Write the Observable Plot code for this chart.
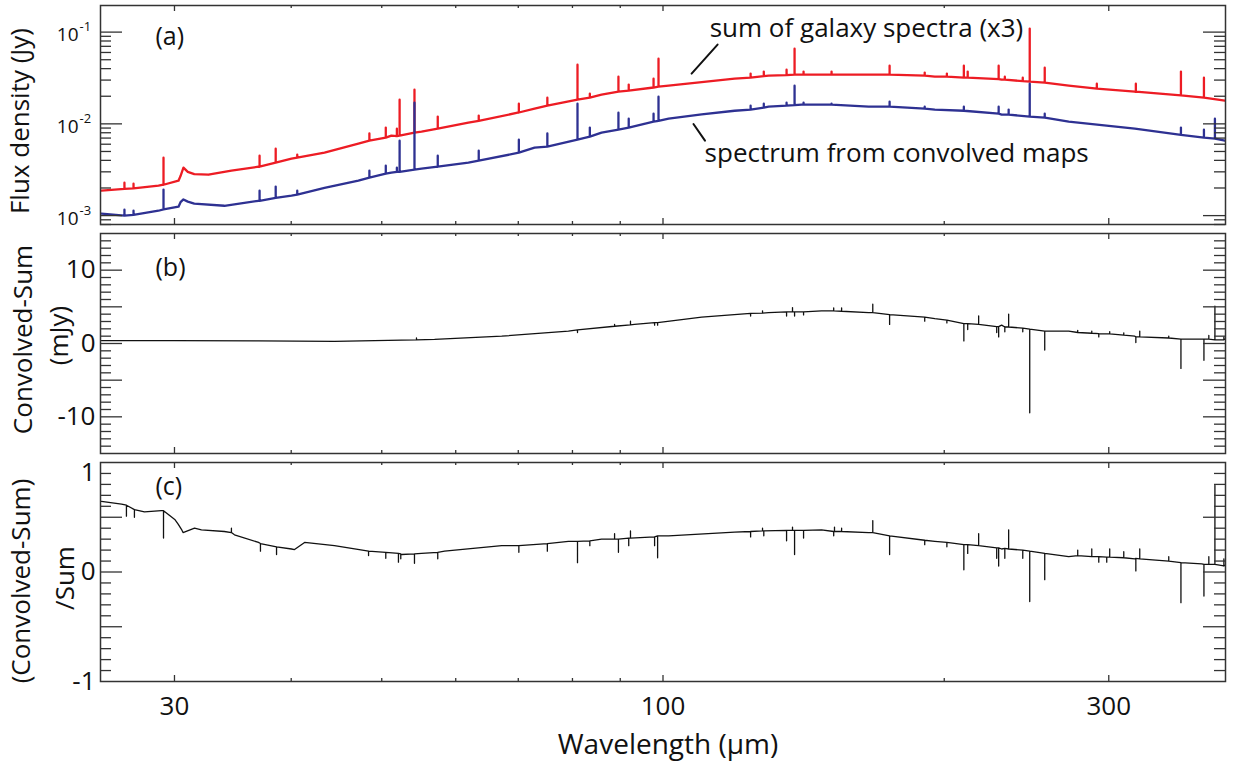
<!DOCTYPE html>
<html>
<head>
<meta charset="utf-8">
<script src="https://cdn.jsdelivr.net/npm/d3@7"></script>
<script src="https://cdn.jsdelivr.net/npm/@observablehq/plot@0.6"></script>
<style>
  body { margin: 0; background: #fff; }
  #chart svg { display: block; overflow: visible; }
</style>
</head>
<body>
<div id="chart"></div>
<script>
// ---------------- DATA ----------------
// wavelength (µm) , flux density (Jy)
const redContinuum = [
  [25.06,0.00187],[26.52,0.00196],[28.84,0.00212],[30.30,0.0024],[30.45,0.0027],[30.67,0.00333],
  [31.0,0.0030],[31.5,0.00283],[32.62,0.00279],[34.52,0.00309],[36.9,0.00341],[40.03,0.00417],
  [43.42,0.00485],[47.2,0.00608],[51.2,0.00743],[55.15,0.00822],[61.9,0.0103],[72.87,0.01465],
  [85.95,0.0208],[101.4,0.0261],[110.0,0.0285],[119.3,0.0311],[129.75,0.0335],[140.7,0.0344],[166.0,0.0344],
  [195.4,0.0327],[230.4,0.0303],[271.8,0.0261],[319.9,0.0224],[399.4,0.0179]
];
// emission lines: wavelength, base, peak
const redLines = [
  [26.52,0.00196,0.00228],[27.12,0.00198,0.00223],[29.2,0.00217,0.00428],[37.0,0.00341,0.0045],
  [38.5,0.00378,0.00536],[40.6,0.00428,0.00461],[48.5,0.00656,0.00785],[50.5,0.00707,0.0091],
  [51.9,0.00734,0.00887],[52.25,0.00743,0.01836],[54.2,0.00802,0.0236],[57.4,0.00887,0.012],
  [63.5,0.0108,0.0123],[70.1,0.0133,0.0166],[75.2,0.0158,0.0193],[81.0,0.0184,0.0442],
  [83.5,0.0193,0.02135],[89.6,0.0224,0.0327],[91.9,0.023,0.0268],[97.7,0.0249,0.0311],
  [98.9,0.0255,0.0514],[124.1,0.0319,0.0353],[128.2,0.0331,0.0371],[135.6,0.034,0.039],
  [138.3,0.0344,0.066],[141.4,0.0344,0.0371],[151.5,0.0344,0.0371],[174.8,0.0344,0.0431],
  [190.6,0.0335,0.0362],[201.3,0.0327,0.0353],[209.9,0.0319,0.0431],[211.9,0.0319,0.0371],
  [228.7,0.0307,0.0431],[232.2,0.0303,0.0327],[242.7,0.0292,0.0319],[246.9,0.0288,0.1092],
  [256.2,0.0282,0.041],[291.3,0.0242,0.0274],[320.7,0.0224,0.0274],[358.4,0.0204,0.0371],
  [379.3,0.0193,0.0319]
];
const blueContinuum = [
  [25.06,0.00105],[26.52,0.0010],[28.84,0.00113],[30.30,0.00125],[30.45,0.0014],[30.67,0.0015],
  [31.0,0.00142],[31.5,0.00135],[33.93,0.00128],[36.9,0.00145],[40.03,0.00165],[43.42,0.00201],
  [47.2,0.0024],[51.2,0.00294],[55.15,0.00325],[61.9,0.00378],[72.87,0.0055],[85.95,0.00802],
  [101.4,0.0114],[110.0,0.0127],[119.3,0.0139],[129.75,0.0154],[140.7,0.0162],[166.0,0.0154],[195.4,0.0143],
  [230.4,0.0126],[271.8,0.01057],[319.9,0.00887],[399.4,0.00656]
];
const blueLines = [
  [26.52,0.001,0.00116],[27.12,0.00102,0.00113],[29.2,0.00117,0.00192],[37.0,0.00145,0.00187],
  [38.5,0.00156,0.00207],[40.6,0.00169,0.00187],[48.5,0.00259,0.00309],[50.5,0.00286,0.0035],
  [51.9,0.003,0.00333],[52.25,0.003,0.00656],[54.2,0.00317,0.017],[57.4,0.00341,0.0045],
  [63.5,0.00397,0.0051],[70.1,0.00485,0.00672],[75.2,0.00564,0.00785],[81.0,0.00672,0.0166],
  [83.5,0.00725,0.0091],[89.6,0.00865,0.01325],[91.9,0.0091,0.0114],[97.7,0.01057,0.0129],
  [98.9,0.0108,0.0198],[124.1,0.0143,0.0158],[128.2,0.015,0.0166],[135.6,0.0158,0.017],
  [138.3,0.016,0.0261],[141.4,0.0162,0.017],[151.5,0.0162,0.0166],[174.8,0.0154,0.01746],
  [190.6,0.01465,0.0154],[209.9,0.0139,0.0154],[228.7,0.0129,0.0154],[234.4,0.0126,0.0143],
  [246.9,0.012,0.0274],[256.2,0.0117,0.0129],[358.4,0.0076,0.0091],[379.3,0.00707,0.00865],
  [389.7,0.0069,0.0114]
];
// panel (b): Convolved - Sum (mJy)
const diffContinuum = [
  [25.06,0.4],[30.0,0.4],[36.9,0.35],[44.5,0.3],[52.5,0.45],[56.95,0.55],[67.2,1.0],[79.2,1.7],
  [88.75,2.35],[93.2,2.6],[97.95,2.85],[110.0,3.6],[129.75,4.2],[140.7,4.3],[147.8,4.45],
  [155.3,4.4],[166.0,4.2],[195.4,3.4],[230.4,2.5],[271.8,1.7],[319.9,1.0],[377.3,0.6],[399.4,0.6]
];
const diffLines = [
  [54.47,0.5,0.75],[81.0,1.85,1.5],[88.75,2.35,2.6],[92.3,2.55,3.05],[97.95,2.85,2.5],
  [98.68,2.85,2.5],[124.1,4.1,3.75],[127.8,4.15,4.45],[135.6,4.3,3.75],[137.6,4.3,4.9],
  [138.3,4.3,3.75],[141.4,4.3,3.9],[152.3,4.45,4.85],[155.3,4.4,4.85],[167.7,4.2,5.35],
  [174.8,3.95,2.6],[190.6,3.6,3.05],[201.3,3.2,2.8],[209.9,2.7,0.35],[211.9,2.7,1.9],
  [217.7,2.6,3.75],[227.6,2.3,1.5],[228.7,2.3,0.9],[232.2,2.25,1.6],[234.4,2.25,4.0],
  [242.7,2.1,1.6],[246.9,1.95,-9.45],[256.2,1.7,-0.9],[277.9,1.5,1.8],[287.7,1.4,1.7],
  [292.7,1.35,0.9],[300.7,1.3,1.6],[311.3,1.15,1.45],[320.7,0.9,0.13],[323.8,0.9,1.7],
  [347.8,0.75,1.0],[358.4,0.6,-3.4],[379.3,0.6,-2.3],[383.9,0.6,1.1],[389.7,0.5,5.1],[398.4,0.5,0.9]
];
// panel (c): (Convolved - Sum) / Sum
const ratioContinuum = [
  [25.06,0.645],[26.33,0.62],[27.18,0.57],[27.86,0.55],[29.05,0.56],[29.6,0.52],[30.02,0.48],
  [30.26,0.44],[30.52,0.39],[30.64,0.36],[31.52,0.40],[32.06,0.385],[33.93,0.37],[34.78,0.34],
  [36.9,0.27],[40.03,0.21],[40.33,0.205],[41.34,0.27],[44.5,0.24],[48.4,0.19],[52.5,0.16],
  [55.15,0.17],[58.37,0.19],[67.2,0.24],[79.2,0.28],[85.95,0.30],[101.4,0.33],[119.3,0.365],
  [140.7,0.38],[147.8,0.385],[166.0,0.36],[195.4,0.28],[230.4,0.21],[271.8,0.14],[319.9,0.12],
  [377.3,0.075],[399.4,0.06]
];
const ratioLines = [
  [26.65,0.61,0.51],[27.18,0.57,0.50],[29.2,0.56,0.31],[34.52,0.36,0.40],[37.08,0.26,0.19],
  [38.58,0.23,0.16],[48.4,0.19,0.15],[50.5,0.18,0.125],[52.1,0.17,0.09],[52.4,0.165,0.12],
  [54.2,0.165,0.08],[57.4,0.18,0.12],[70.1,0.24,0.18],[75.2,0.26,0.19],[81.0,0.28,0.085],
  [83.5,0.285,0.24],[88.75,0.30,0.35],[89.6,0.30,0.18],[91.9,0.31,0.24],[92.3,0.31,0.375],
  [97.95,0.32,0.24],[98.68,0.33,0.13],[124.1,0.37,0.32],[127.8,0.375,0.40],[128.2,0.375,0.33],
  [135.6,0.38,0.285],[137.6,0.38,0.41],[138.3,0.38,0.16],[141.4,0.38,0.31],[152.3,0.37,0.33],
  [152.6,0.37,0.41],[155.3,0.37,0.40],[167.7,0.36,0.47],[174.8,0.33,0.16],[190.6,0.29,0.25],
  [201.3,0.27,0.23],[209.9,0.25,0.02],[211.9,0.25,0.17],[217.7,0.24,0.35],[227.6,0.22,0.125],
  [228.7,0.22,0.055],[232.2,0.215,0.125],[234.4,0.21,0.385],[242.7,0.20,0.125],[246.9,0.19,-0.27],
  [256.2,0.17,-0.07],[277.9,0.15,0.20],[287.7,0.14,0.21],[292.7,0.14,0.09],[298.5,0.135,0.09],
  [300.7,0.135,0.21],[311.3,0.13,0.185],[320.7,0.125,0.01],[323.8,0.12,0.21],[347.8,0.1,0.14],
  [358.4,0.085,-0.28],[379.3,0.07,-0.22],[383.9,0.07,0.14],[389.7,0.07,0.79],[398.4,0.055,0.12]
];

// annotations (panel a)
const sumLabel = [[112.2, 0.0878, "sum of galaxy spectra (x3)"]];
const convLabel = [[110.8, 0.00387, "spectrum from convolved maps"]];
const sumLeader = [[107.3, 0.0353], [114.4, 0.0731]];
const convLeader = [[107.8, 0.00997], [110.9, 0.00656]];

// axes / ticks
const xDomain = [25, 400];
const xMajor = [30, 100, 300];
const xMinor = [40, 50, 60, 70, 80, 90, 200];
const yDomainA = [0.0008, 0.195];
const yMajorA = [0.001, 0.01, 0.1];
const yMinorA = [0.0008, 0.0009, 0.002, 0.003, 0.004, 0.005, 0.006, 0.007, 0.008, 0.009,
                 0.02, 0.03, 0.04, 0.05, 0.06, 0.07, 0.08, 0.09];
const yExpA = ["-3", "-2", "-1"];
const yDomainB = [-15, 15];
const yMajorB = [-10, -5, 0, 5, 10];
const yMinorB = d3.range(-14, 15).filter(v => v % 5 !== 0);
const yLabelsB = [-10, 0, 10];
const yDomainC = [-1, 1];
const yMajorC = [-0.5, 0, 0.5];
const yMinorC = [-0.9, -0.8, -0.7, -0.6, -0.4, -0.3, -0.2, -0.1, 0.1, 0.2, 0.3, 0.4, 0.6, 0.7, 0.8, 0.9];
const yLabelsC = [-1, 0, 1];

// ---------------- LAYOUT / STYLE ----------------
const W = 1234, ML = 100, MR = 9;
const frameW = W - ML - MR;
const FONT = "'Open Sans', sans-serif";
const AX = "#333";
const RED = "#ed1c24", BLUE = "#2e3192", INK = "#111";

function series(cont, lines) {
  const pts = cont.map(([x, y]) => ({x, y}));
  for (const [x, b, p] of lines) pts.push({x, y: b}, {x, y: p}, {x, y: b});
  return pts.map((d, i) => ({...d, i})).sort((a, b) => a.x - b.x || a.i - b.i);
}

function frameTicks(frameH, major, minor) {
  const s = {stroke: AX, strokeWidth: 1.3};
  return [
    Plot.tickX(xMajor, {x: d => d, insetTop: frameH - 6, ...s}),
    Plot.tickX(xMajor, {x: d => d, insetBottom: frameH - 6, ...s}),
    Plot.tickX(xMinor, {x: d => d, insetTop: frameH - 3, ...s}),
    Plot.tickX(xMinor, {x: d => d, insetBottom: frameH - 3, ...s}),
    Plot.tickY(major, {y: d => d, insetRight: frameW - 22, ...s}),
    Plot.tickY(major, {y: d => d, insetLeft: frameW - 22, ...s}),
    Plot.tickY(minor, {y: d => d, insetRight: frameW - 11, ...s}),
    Plot.tickY(minor, {y: d => d, insetLeft: frameW - 11, ...s}),
    Plot.frame({stroke: AX, strokeWidth: 1.5})
  ];
}

function panel({height, mt, mb, y, marks}) {
  return Plot.plot({
    width: W, height, marginLeft: ML, marginRight: MR, marginTop: mt, marginBottom: mb,
    style: {fontFamily: FONT, fontSize: "25px", background: "white", color: "#111", overflow: "visible"},
    x: {type: "log", domain: xDomain, axis: null},
    y: {...y, axis: null},
    marks
  });
}

const title = (t, dx, dy) => Plot.text([t], {frameAnchor: "left", text: d => d, rotate: -90,
  dx, dy, fontSize: 26, textAnchor: "middle", lineAnchor: "middle", fill: "#111"});
const panelTag = (t, dy) => Plot.text([t], {frameAnchor: "top-left", text: d => d, dx: 55, dy,
  fontSize: 25, textAnchor: "start", lineAnchor: "top", fill: "#111"});

// panel (a)
const pa = panel({
  height: 229, mt: 5, mb: 5,
  y: {type: "log", domain: yDomainA},
  marks: [
    Plot.line(series(redContinuum, redLines), {x: "x", y: "y", stroke: RED, strokeWidth: 2.3}),
    Plot.line(series(blueContinuum, blueLines), {x: "x", y: "y", stroke: BLUE, strokeWidth: 2.3}),
    Plot.line(sumLeader, {x: d => d[0], y: d => d[1], stroke: "#111", strokeWidth: 2}),
    Plot.line(convLeader, {x: d => d[0], y: d => d[1], stroke: "#111", strokeWidth: 2}),
    Plot.text(sumLabel, {x: d => d[0], y: d => d[1], text: d => d[2], textAnchor: "start", lineAnchor: "bottom", fontSize: 26, fill: "#111"}),
    Plot.text(convLabel, {x: d => d[0], y: d => d[1], text: d => d[2], textAnchor: "start", lineAnchor: "bottom", fontSize: 26, fill: "#111"}),
    ...frameTicks(219, yMajorA, yMinorA),
    Plot.text(yMajorA, {y: d => d, frameAnchor: "left", text: () => "10", textAnchor: "end", lineAnchor: "middle", dx: -22, dy: 3, fontSize: 19, fill: "#111"}),
    Plot.text(yMajorA, {y: d => d, frameAnchor: "left", text: (d, i) => yExpA[i], textAnchor: "start", lineAnchor: "middle", dx: -21, dy: -5, fontSize: 13, fill: "#111"}),
    panelTag("(a)", 22),
    title("Flux density (Jy)", -80, 6)
  ]
});

// panel (b)
const pb = panel({
  height: 228, mt: 4, mb: 4,
  y: {domain: yDomainB},
  marks: [
    Plot.line(series(diffContinuum, diffLines), {x: "x", y: "y", stroke: INK, strokeWidth: 1.3}),
    ...frameTicks(220, yMajorB, yMinorB),
    Plot.text(yLabelsB, {y: d => d, frameAnchor: "left", text: d => String(d), textAnchor: "end", lineAnchor: "middle", dx: -5, fontSize: 26, fill: "#111"}),
    panelTag("(b)", 25),
    title("Convolved-Sum", -77, -4),
    title("(mJy)", -41, -8)
  ]
});

// panel (c)
const pc = panel({
  height: 305, mt: 5, mb: 81,
  y: {domain: yDomainC},
  marks: [
    Plot.line(series(ratioContinuum, ratioLines), {x: "x", y: "y", stroke: INK, strokeWidth: 1.3}),
    ...frameTicks(219, yMajorC, yMinorC),
    Plot.text(yLabelsC.filter(d => d < 1), {y: d => d, frameAnchor: "left", text: d => String(d), textAnchor: "end", lineAnchor: "middle", dx: -5, fontSize: 26, fill: "#111"}),
    Plot.text(yLabelsC.filter(d => d === 1), {y: d => d, frameAnchor: "left", text: d => String(d), textAnchor: "end", lineAnchor: "top", dx: -5, fontSize: 26, fill: "#111"}),
    Plot.text(xMajor, {x: d => d, frameAnchor: "bottom", text: d => String(d), textAnchor: "middle", lineAnchor: "top", dy: 15, fontSize: 26, fill: "#111"}),
    Plot.text(["Wavelength (\u03bcm)"], {frameAnchor: "bottom", text: d => d, textAnchor: "middle", lineAnchor: "bottom", dx: 5, dy: 72, fontSize: 28, fill: "#111"}),
    panelTag("(c)", 15),
    title("(Convolved-Sum)", -79, 9),
    title("/Sum", -35, 6)
  ]
});

const chart = document.getElementById("chart");
chart.append(pa, pb, pc);
</script>
</body>
</html>
